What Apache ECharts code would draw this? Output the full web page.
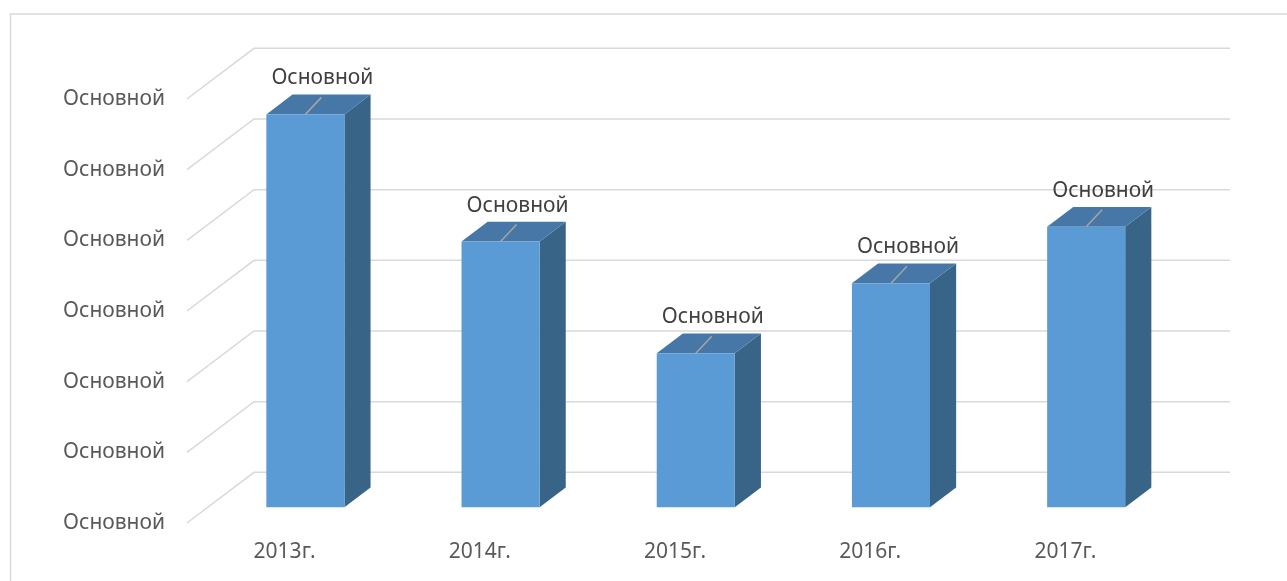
<!DOCTYPE html>
<html>
<head>
<meta charset="utf-8">
<script src="https://cdn.jsdelivr.net/npm/echarts@6/dist/echarts.min.js"></script>
<style>
  html, body { margin: 0; padding: 0; background: #fff; }
  #chart { width: 1287px; height: 581px; }
</style>
</head>
<body>
<div id="chart"></div>
<script>
// data
var categories = ["2013г.", "2014г.", "2015г.", "2016г.", "2017г."];
var values = [5.56, 3.76, 2.18, 3.17, 3.97];
var yTicks = [0, 1, 2, 3, 4, 5, 6];
var tickLabel = "Основной";   // broken "General" number format, shown as is
var dataLabel = "Основной";

// 3d look: depth of the floor in pixels, bars sit in the middle of it
var DEPTH = [67, -50.7];
var FRONT_AT = 0.31;
var BAR_DEPTH = 0.39;
var BAR_RATIO = 0.4;
var FONT = '"Noto Sans", sans-serif';

var myChart = echarts.init(document.getElementById("chart"));

function renderWall(params, api) {
  var cs = params.coordSys;
  var y = api.coord([0, api.value(1)])[1];
  return {
    type: "polyline",
    shape: {
      points: [
        [cs.x, y],
        [cs.x + DEPTH[0], y + DEPTH[1]],
        [cs.x + cs.width + DEPTH[0], y + DEPTH[1]]
      ]
    },
    style: { stroke: "#d9d9d9", lineWidth: 1.5, fill: null },
    silent: true
  };
}

function renderBar(params, api) {
  var base = api.coord([api.value(0), 0]);
  var top = api.coord([api.value(0), api.value(1)]);
  var w = api.size([1, 0])[0] * BAR_RATIO;
  var cx = base[0] + DEPTH[0] * FRONT_AT;
  var x0 = cx - w / 2, x1 = cx + w / 2;
  var yb = base[1] + DEPTH[1] * FRONT_AT;
  var yt = top[1] + DEPTH[1] * FRONT_AT;
  var dx = DEPTH[0] * BAR_DEPTH, dy = DEPTH[1] * BAR_DEPTH;
  return {
    type: "group",
    children: [
      {
        type: "polygon",
        shape: { points: [[x1, yt], [x1 + dx, yt + dy], [x1 + dx, yb + dy], [x1, yb]] },
        style: { fill: "#386488" }
      },
      {
        type: "polygon",
        shape: { points: [[x0, yt], [x1, yt], [x1 + dx, yt + dy], [x0 + dx, yt + dy]] },
        style: { fill: "#4677a7" }
      },
      {
        type: "rect",
        shape: { x: x0, y: yt, width: w, height: yb - yt },
        style: { fill: "#5b9bd5" }
      },
      {
        type: "line",
        shape: { x1: cx, y1: yt, x2: cx + 16, y2: yt - 17 },
        style: { stroke: "#a6a6a6", lineWidth: 1.5 }
      },
      {
        type: "text",
        style: {
          text: dataLabel,
          x: cx + 17,
          y: yt - 36,
          textAlign: "center",
          textVerticalAlign: "middle",
          fill: "#404040",
          font: "21px " + FONT
        }
      }
    ]
  };
}

var option = {
  backgroundColor: "#fff",
  animation: false,
  graphic: [
    {
      type: "rect",
      shape: { x: 10.5, y: 14, width: 1400, height: 700 },
      style: { fill: null, stroke: "#d9d9d9", lineWidth: 1.5 },
      silent: true
    }
  ],
  grid: {
    left: 187,
    right: 124,
    top: 99,
    bottom: 58
  },
  xAxis: {
    type: "category",
    data: categories,
    axisLine: { show: false },
    axisTick: { show: false },
    axisLabel: {
      color: "#595959",
      fontSize: 21,
      fontFamily: FONT,
      margin: 19
    }
  },
  yAxis: {
    type: "value",
    min: 0,
    max: 6,
    interval: 1,
    axisLine: { show: false },
    axisTick: { show: false },
    splitLine: { show: false },
    axisLabel: {
      color: "#595959",
      fontSize: 21,
      fontFamily: FONT,
      margin: 22,
      formatter: function () {
        return tickLabel;
      }
    }
  },
  series: [
    {
      type: "custom",
      renderItem: renderWall,
      data: yTicks.map(function (v) { return [0, v]; }),
      encode: { x: 0, y: 1 },
      z: 1,
      silent: true,
      clip: false
    },
    {
      type: "custom",
      renderItem: renderBar,
      data: values.map(function (v, i) { return [i, v]; }),
      encode: { x: 0, y: 1 },
      z: 2,
      clip: false
    }
  ]
};

myChart.setOption(option);
window.addEventListener("resize", function () {
  myChart.resize();
});
</script>
</body>
</html>
